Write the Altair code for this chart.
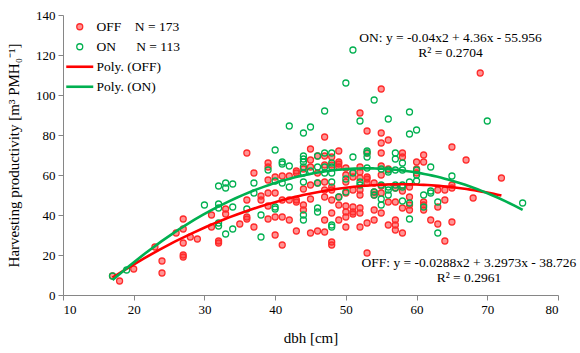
import altair as alt
import pandas as pd

# ---------------- data ----------------
off_dbh = [
    17, 18, 20, 23, 24, 24, 26, 27, 27, 27, 27, 27, 28, 29, 31, 31, 32, 32, 33, 33,
    35, 36, 36, 36, 36, 37, 37, 38, 38, 39, 39, 39, 39, 39, 39, 40, 40, 40, 40,
    41, 41, 41, 41, 42, 42, 42, 43, 43, 43, 43, 43, 44, 44, 44, 44,
    45, 45, 45, 45, 45, 45, 46, 46, 46, 46,
    47, 47, 47, 47, 47, 47, 47, 47, 48, 48, 48, 48, 48, 48, 48, 48,
    49, 49, 49, 49, 49, 49, 49, 50, 50, 50, 50, 50, 50, 50, 50,
    51, 51, 51, 51, 51, 51, 52, 52, 52, 52, 52, 52, 52, 52, 52,
    53, 53, 53, 53, 53, 53, 53, 54, 54, 54, 54, 54,
    55, 55, 55, 55, 55, 55, 55, 55, 55, 56, 56, 56, 56,
    57, 57, 57, 57, 57, 58, 58, 58, 58, 58, 59, 59, 59, 59, 60, 60, 60,
    61, 61, 61, 61, 61, 62, 63, 63, 63, 64, 64, 64, 65, 65, 65, 65, 67, 68, 69, 72,
]
off_prod = [
    9.5, 7, 13, 24, 17, 11, 31, 38, 33, 26, 20, 19, 29, 28, 40, 34, 27, 26, 43, 40.5,
    35.5, 71, 47.5, 39, 38, 61, 34, 49.5, 47.5, 66, 64, 57.5, 51, 44.5, 38, 59, 51, 39, 30,
    59.5, 47.5, 39, 25, 59.5, 47.5, 37.5, 62, 61, 47.5, 46.5, 32, 63, 53, 45, 42.5,
    73, 67.5, 64, 55, 48, 31, 69.5, 61, 56, 32,
    79, 69.5, 65, 56.5, 52.5, 49, 37.5, 31.5, 69, 65, 54, 52.5, 47.5, 41, 26.5, 25,
    72, 66.5, 65.5, 64, 49, 45, 37.5, 63.5, 60, 56.5, 51, 44.5, 41.5, 39, 34,
    61.5, 59, 52.5, 44, 41.5, 40.5, 91, 64, 61.5, 58.5, 52.5, 50, 43.5, 41, 34,
    82, 71, 59, 58, 56, 36, 21, 56, 51.5, 50, 42.5, 37.5,
    103, 81, 76, 71, 64.5, 60, 54.5, 51, 41, 77.5, 63, 46.5, 35,
    53.5, 46.5, 37.5, 35, 32.5, 71, 69, 52, 43.5, 31, 54, 49, 45, 42.5, 66.5, 63, 61,
    70, 66.5, 46.5, 45, 42.5, 37.5, 52.5, 44, 35.5, 52.5, 47.5, 27, 74, 55, 53.5, 36.5, 67.5, 48.5, 111, 58.5,
]
on_dbh = [
    17, 19, 30, 32, 32, 32, 32, 32, 33, 33, 33, 34, 34, 34, 36, 37, 37, 38, 38, 39,
    40, 40, 40, 40, 41, 41, 41, 42, 42, 42,
    44, 44, 44, 44, 44, 44, 44, 44, 44, 45, 45, 46, 46, 46, 46, 46,
    47, 47, 47, 47, 48, 48, 48, 48, 48, 48, 48, 49, 50, 50, 50, 51, 51, 51, 52, 52, 52,
    53, 53, 53, 53, 54, 54, 54, 55, 55, 55, 55, 56, 56, 56, 56, 56, 56,
    57, 57, 57, 57, 57, 58, 58, 58, 58, 58, 59, 59, 59, 59, 59, 60, 60, 60, 60,
    61, 61, 62, 62, 62, 63, 63, 65, 70, 75,
]
on_prod = [
    9.5, 12.5, 45, 54.5, 45.5, 43.5, 36, 34.5, 56, 53.5, 30.5, 55.5, 44, 33, 43, 56, 51, 40, 29, 62.5,
    72.5, 57, 44, 43, 66.5, 65.5, 56, 84.5, 64.5, 54,
    81, 69.5, 68, 66.5, 64, 61, 56.5, 40, 37.5, 84, 62, 69.5, 64, 56, 43.5, 41.5,
    92, 71, 64, 61, 71, 66, 64, 61, 56.5, 35, 34, 49, 106, 58, 51.5, 122.5, 69, 61, 87, 56.5, 55,
    72, 71, 69, 63.5, 97.5, 51.5, 50, 63, 55, 48, 45, 88, 62.5, 61.5, 54, 52.5, 50,
    71, 68, 62.5, 55, 53.5, 66, 62.5, 55, 54, 47, 91.5, 80.5, 56.5, 46, 38, 82.5, 62.5, 60, 57,
    50, 44, 64, 52, 51, 46.5, 31, 59.5, 87, 46,
]

x_ticks = [10, 20, 30, 40, 50, 60, 70, 80]
y_ticks = [0, 20, 40, 60, 80, 100, 120, 140]

series_names = ["OFF", "ON", "Poly. (OFF)", "Poly. (ON)"]
NB = "\u00a0"
series_labels = ["OFF" + NB * 4 + "N = 173", "ON" + NB * 6 + "N = 113", "Poly. (OFF)", "Poly. (ON)"]

eq_text = ["ON: y = -0.04x2 + 4.36x - 55.956", "R² = 0.2704",
           "OFF: y = -0.0288x2 + 3.2973x - 38.726", "R² = 0.2961"]
eq_x = [64.8, 64.8, 67.4, 67.4]
eq_y = [128.5, 120.8, 16.2, 8.6]

# ---------------- styling ----------------
FONT = "'Liberation Serif', 'Times New Roman', Times, serif"
RED = "#FF0000"
GREEN = "#00B050"
AXIS_GREY = "#868686"

stroke_range = ["#FF2A2A", GREEN, RED, GREEN]
fill_range = ["rgba(255,40,40,0.5)", "rgba(255,255,255,0)", "rgba(0,0,0,0)", "rgba(0,0,0,0)"]
shape_range = ["circle", "circle", "M-4.5,0H4.5", "M-4.5,0H4.5"]
sw_range = [1.3, 1.3, 2.6, 2.6]

pts = pd.DataFrame({
    "dbh": off_dbh + on_dbh,
    "prod": off_prod + on_prod,
    "grp": ["OFF"] * len(off_dbh) + ["ON"] * len(on_dbh),
})
pts["series"] = pts["grp"]

eq = pd.DataFrame({"dbh": eq_x, "prod": eq_y, "t": eq_text})

label_expr = " : ".join(
    [f"datum.label == '{n}' ? '{l}'" for n, l in zip(series_names[:2], series_labels[:2])]
) + " : datum.label"

legend = alt.Legend(
    title=None, orient="none", legendX=10, legendY=5,
    labelFont=FONT, labelFontSize=13.5, labelColor="black",
    symbolSize=36, labelOffset=10, rowPadding=5, padding=0,
    labelExpr=label_expr,
)

x_axis = alt.Axis(values=x_ticks, title="dbh [cm]", grid=False, titlePadding=14, labelOverlap=False)
y_axis = alt.Axis(values=y_ticks, title="Harvesting productivity [m³ PMH₀⁻¹]", grid=False,
                  titlePadding=14, labelOverlap=False)

x_enc = alt.X("dbh:Q", scale=alt.Scale(domain=[10, 80], nice=False), axis=x_axis)
y_enc = alt.Y("prod:Q", scale=alt.Scale(domain=[0, 140], nice=False), axis=y_axis)

stroke_enc = alt.Stroke("series:N", scale=alt.Scale(domain=series_names, range=stroke_range), legend=legend)
sw_enc = alt.StrokeWidth("series:N", scale=alt.Scale(type="ordinal", domain=series_names, range=sw_range), legend=legend)

points = alt.Chart(pts).mark_point(size=36, opacity=1).encode(
    x=x_enc,
    y=y_enc,
    stroke=stroke_enc,
    fill=alt.Fill("series:N", scale=alt.Scale(domain=series_names, range=fill_range), legend=legend),
    shape=alt.Shape("series:N", scale=alt.Scale(domain=series_names, range=shape_range), legend=legend),
    strokeWidth=sw_enc,
    order=alt.Order("grp:N"),
)

lines = alt.Chart(pts).transform_regression(
    "dbh", "prod", method="poly", order=2, groupby=["grp"]
).transform_calculate(
    series="'Poly. (' + datum.grp + ')'"
).mark_line().encode(
    x=x_enc,
    y=y_enc,
    stroke=stroke_enc,
    strokeWidth=sw_enc,
    detail="grp:N",
)

texts = alt.Chart(eq).mark_text(font=FONT, fontSize=13.5, align="center", baseline="middle", color="black").encode(
    x=x_enc,
    y=y_enc,
    text="t:N",
)

chart = alt.layer(points, lines, texts).properties(
    width=495, height=280,
    autosize=alt.AutoSizeParams(type="none"),
    padding={"left": 63, "top": 15, "right": 22, "bottom": 58},
).configure_view(stroke=None).configure_axis(
    domainColor=AXIS_GREY, tickColor=AXIS_GREY, tickSize=5, domainWidth=1,
    labelFont=FONT, labelFontSize=13, labelColor="black", labelPadding=3,
    titleFont=FONT, titleFontSize=15, titleFontWeight="normal", titleColor="black",
)

chart.save("out.html", embed_options={"renderer": "svg", "actions": False})
